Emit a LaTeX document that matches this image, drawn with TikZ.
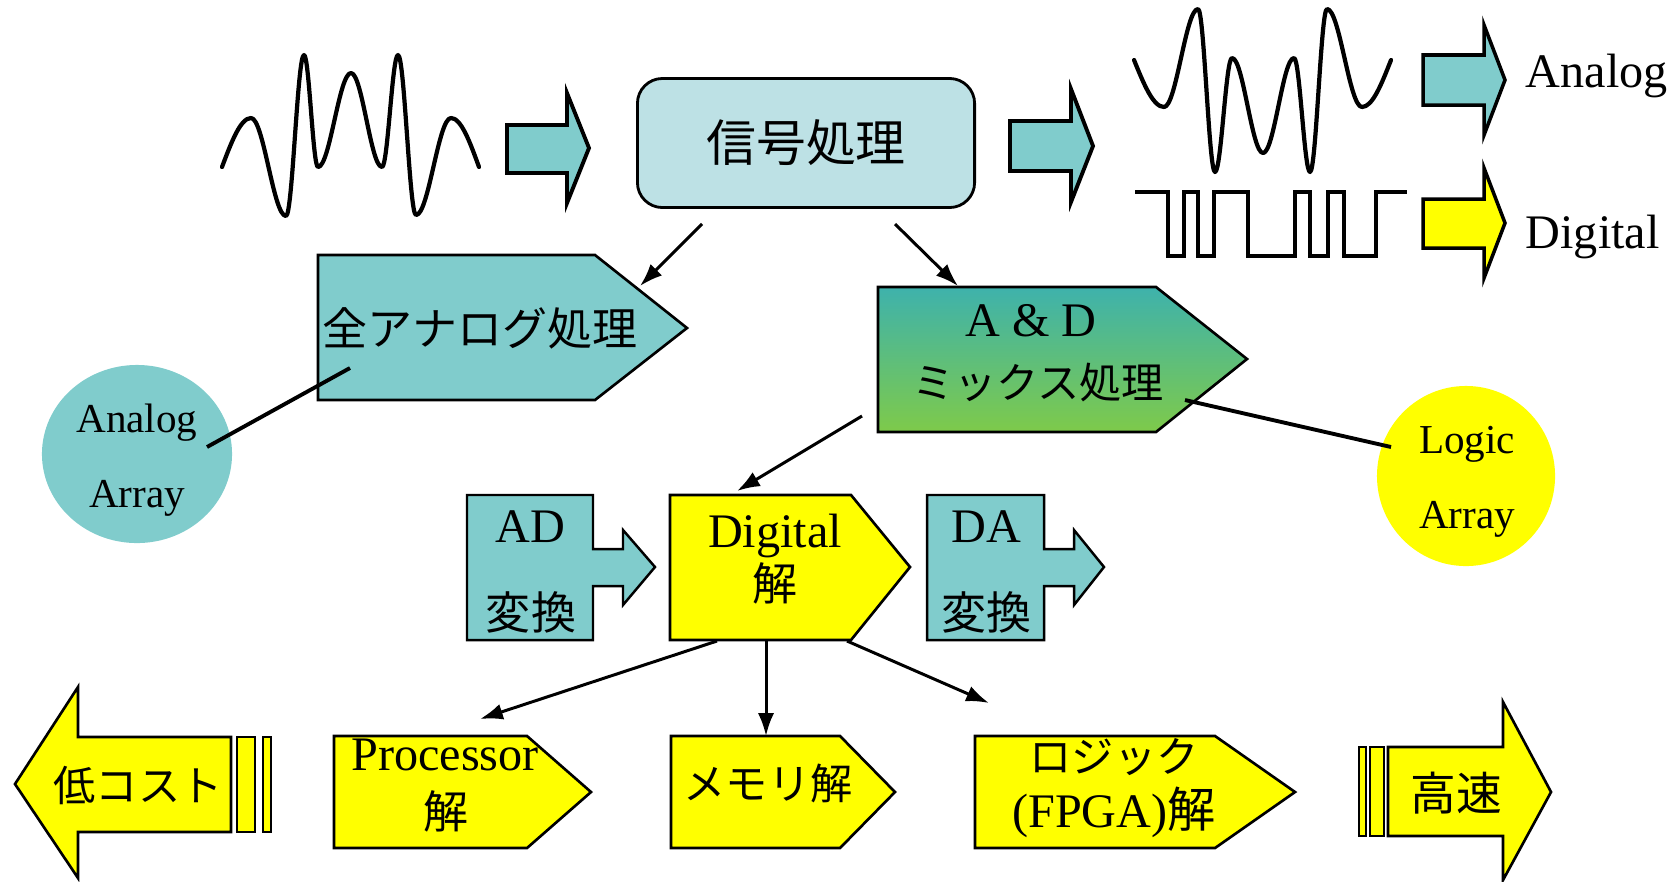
\documentclass[tikz,border=0pt]{standalone}
\usepackage{fontspec}
\setmainfont{Liberation Serif}
\newfontfamily\jpfont{Noto Sans CJK JP}
\usetikzlibrary{arrows.meta, positioning, shapes.geometric}

\definecolor{aqua}{RGB}{128,204,204}
\definecolor{paleaqua}{RGB}{189,225,229}
\definecolor{ylw}{RGB}{255,255,0}
\definecolor{mixtop}{RGB}{62,178,172}
\definecolor{mixbot}{RGB}{126,202,74}

\tikzset{
	wave/.style		= {line width=1.2pt, line join=round, line cap=round},
	fat/.style		= {draw, line width=1.1pt},
	sigbox/.style	= {draw, line width=0.75pt},
	en/.style		= {font=\fontsize{13.7}{16}\selectfont, inner sep=0pt},
	small/.style	= {font=\fontsize{11.7}{14}\selectfont, inner sep=0pt},
	jp/.style		= {font={\jpfont\fontsize{#1}{#1}\selectfont}, inner sep=0pt},
	jp/.default		= 12.8,
	link/.style		= {line width=0.85pt, -{Latex[length=6.5pt,width=4.6pt]}},
	tie/.style		= {line width=1.1pt},
}

\begin{document}
\begin{tikzpicture}[x=0.01cm, y=-0.01cm]
	\useasboundingbox (0,0) rectangle (1674,881);

	% signals
	\draw[wave] (222,167) sin (251,118) cos (268.5,167) sin (286,216)
		cos (295,135.5) sin (304,55) cos (311,111) sin (318,167)
		cos (334.5,120) sin (351,73) cos (366.5,120) sin (382,167)
		cos (390,111) sin (398,55) cos (407,135) sin (416,215)
		cos (433.5,166.5) sin (451,118) cos (479,167);
	\draw[wave] (1134,60) sin (1164,107) cos (1181,58) sin (1198,9)
		cos (1206.5,90.5) sin (1215,172) cos (1223.5,115) sin (1232,58)
		cos (1247.5,105.5) sin (1263,153) cos (1278.5,105.5) sin (1294,58)
		cos (1302,115) sin (1310,172) cos (1318.5,90.5) sin (1327,9)
		cos (1344.5,58) sin (1362,107) cos (1391,60);
	\draw[line width=1pt] (1135,192) -| (1168,256) -| (1184,192) -| (1198,256)
		-| (1214,192) -| (1248,256) -| (1295,192) -| (1310,256) -| (1328,192)
		-| (1344,256) -| (1376,192) -- (1407,192);

	% block arrows
	\draw[fat, fill=aqua] (507,125) -- (567,125) -- (567,93) -- (589,148)
		-- (567,203) -- (567,173) -- (507,173) -- cycle;
	\draw[fat, fill=aqua] (1010,121) -- (1071,121) -- (1071,89) -- (1093,146)
		-- (1071,202) -- (1071,171) -- (1010,171) -- cycle;
	\draw[fat, line width=1pt, fill=aqua] (1423,55) -- (1484,55) -- (1484,25) -- (1505,80)
		-- (1484,135) -- (1484,105) -- (1423,105) -- cycle;
	\draw[fat, line width=1pt, fill=ylw] (1423,199) -- (1484,199) -- (1484,168) -- (1505,223)
		-- (1484,278) -- (1484,248) -- (1423,248) -- cycle;

	\node[en, anchor=base west]	(ana)	at (1525,87)	{Analog};
	\node[en, anchor=base west]	(digi)	at (1525,248)	{Digital};

	% main box
	\node[draw, fill=paleaqua, line width=0.8pt, rounded corners=0.25cm,
		minimum width=3.37cm, minimum height=1.29cm, jp=14.2] (sig) at (806,143) {信号処理};

	% analog / mixed
	\draw[sigbox, fill=aqua] (318,255) -- (595,255) -- (687,328) -- (595,400) -- (318,400) -- cycle;
	\node[jp]					(zen)	at (480,328)	{全アナログ処理};

	\draw[sigbox, top color=mixtop, bottom color=mixbot]
		(878,287) -- (1156,287) -- (1247,359) -- (1156,432) -- (878,432) -- cycle;
	\node[en, anchor=base]		(mix-a)	at (1031,336)	{A \& D};
	\node[jp=12]				(mix-b)	at (1038,383)	{ミックス処理};

	\node[ellipse, fill=aqua, inner sep=0pt, minimum width=1.9cm, minimum height=1.78cm] (aarr) at (137,454) {};
	\node[small, anchor=base]	(aarr-a)	at (137,432)	{Analog};
	\node[small, anchor=base]	(aarr-b)	at (137,507)	{Array};

	\node[ellipse, fill=ylw, inner sep=0pt, minimum width=1.78cm, minimum height=1.8cm] (larr) at (1466,476) {};
	\node[small, anchor=base]	(larr-a)	at (1467,453)	{Logic};
	\node[small, anchor=base]	(larr-b)	at (1467,528)	{Array};

	% converters and digital
	\draw[sigbox, line width=0.7pt, fill=aqua] (467,495) -- (593,495) -- (593,549) -- (623,549)
		-- (623,530) -- (655,567) -- (623,605) -- (623,586) -- (593,586) -- (593,640) -- (467,640) -- cycle;
	\node[en, anchor=base]		(ad-a)	at (530,542)	{AD};
	\node[jp]					(ad-b)	at (531,612)	{変換};

	\draw[sigbox, fill=ylw] (670,495) -- (851,495) -- (910,567) -- (851,640) -- (670,640) -- cycle;
	\node[en, anchor=base]		(dig-a)	at (775,547)	{Digital};
	\node[jp]					(dig-b)	at (775,583)	{解};

	\draw[sigbox, line width=0.7pt, fill=aqua] (927,495) -- (1044,495) -- (1044,549) -- (1074,549)
		-- (1074,530) -- (1104,567) -- (1074,605) -- (1074,586) -- (1044,586) -- (1044,640) -- (927,640) -- cycle;
	\node[en, anchor=base]		(da-a)	at (986,542)	{DA};
	\node[jp]					(da-b)	at (986,612)	{変換};

	% solutions
	\draw[sigbox, fill=ylw] (15,784) -- (78,687) -- (78,737) -- (231,737) -- (231,832)
		-- (78,832) -- (78,878) -- cycle;
	\draw[sigbox, fill=ylw] (237,737) rectangle (255,832);
	\draw[sigbox, fill=ylw] (263,737) rectangle (271,832);
	\node[jp=12]				(low)	at (138,785)	{低コスト};

	\draw[sigbox, fill=ylw] (334,736) -- (527,736) -- (591,792) -- (527,848) -- (334,848) -- cycle;
	\node[en, anchor=base]		(proc-a)	at (445,770)	{Processor};
	\node[jp]					(proc-b)	at (446,811)	{解};

	\draw[sigbox, fill=ylw] (671,736) -- (840,736) -- (895,792) -- (840,848) -- (671,848) -- cycle;
	\node[jp=12]				(mem)	at (768,783)	{メモリ解};

	\draw[sigbox, fill=ylw] (975,736) -- (1215,736) -- (1295,792) -- (1215,848) -- (975,848) -- cycle;
	\node[jp=12]				(logic-a)	at (1114,757)	{ロジック};
	\node[en, anchor=base]		(logic-b)	at (1114,827)	{(FPGA)\jpfont 解};

	\draw[sigbox, fill=ylw] (1359,747) rectangle (1366,836);
	\draw[sigbox, fill=ylw] (1370,747) rectangle (1384,836);
	\draw[sigbox, fill=ylw] (1388,747) -- (1503,747) -- (1503,702) -- (1551,792)
		-- (1503,880) -- (1503,836) -- (1388,836) -- cycle;
	\node[jp=13]				(fast)	at (1456,793)	{高速};

	% connector ends
	\coordinate (sig-l)		at (702,224);
	\coordinate (sig-r)		at (895,224);
	\coordinate (zen-in)	at (640,286);
	\coordinate (mix-in)	at (958,286);
	\coordinate (zen-t)		at (350,368);
	\coordinate (aarr-t)	at (207,447);
	\coordinate (mix-t)		at (1185,400);
	\coordinate (larr-t)	at (1391,447);
	\coordinate (mix-o)		at (862,416);
	\coordinate (dig-in)	at (737,491);
	\coordinate (dig-sw)	at (717,641);
	\coordinate (dig-s)		at (766,641);
	\coordinate (dig-se)	at (847,641);
	\coordinate (proc-in)	at (480,719);
	\coordinate (mem-in)	at (766,736);
	\coordinate (logic-in)	at (989,703);

	\path[link]
	(sig-l)		edge	(zen-in)
	(sig-r)		edge	(mix-in)
	(mix-o)		edge	(dig-in)
	(dig-sw)	edge	(proc-in)
	(dig-s)		edge	(mem-in)
	(dig-se)	edge	(logic-in)
;
	\draw[tie] (zen-t) -- (aarr-t);
	\draw[tie] (mix-t) -- (larr-t);
\end{tikzpicture}
\end{document}
